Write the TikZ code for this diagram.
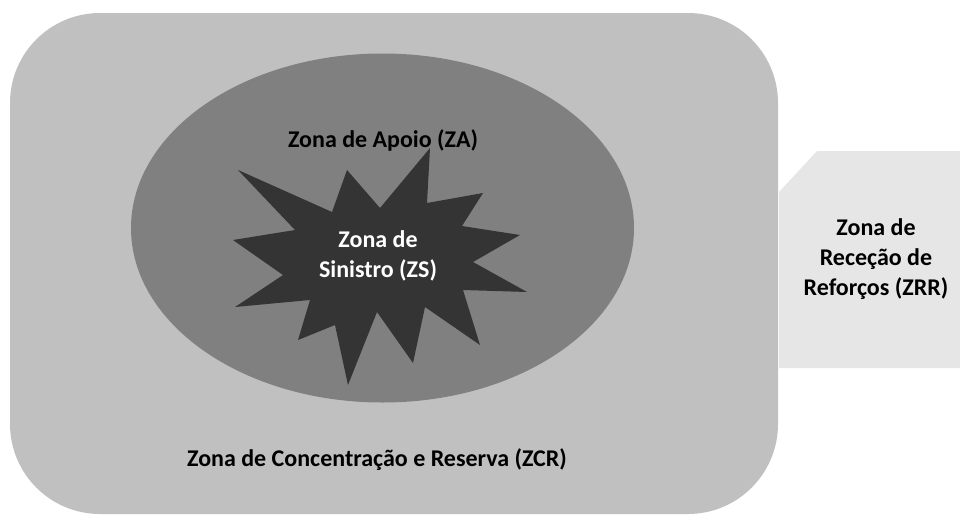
\documentclass[tikz,border=0pt]{standalone}
\usepackage{fontspec}
\setmainfont{Carlito}
\usepackage{tikz}
\usetikzlibrary{positioning}

\begin{document}
\begin{tikzpicture}[x=0.75pt, y=-0.75pt,
    zonelabel/.style={font=\fontsize{18}{22.5}\selectfont\bfseries, align=center, inner sep=0pt}]
  \useasboundingbox (0,0) rectangle (960,514);
  % zona de concentracao e reserva
  \fill[fill={rgb,255:red,192;green,192;blue,192}, rounded corners=67.5pt] (10,13) rectangle (778,514);
  % zona de rececao de reforcos
  \fill[fill={rgb,255:red,230;green,230;blue,230}] (779,192) -- (817,151) -- (960,151) -- (960,368) -- (779,368) -- cycle;
  % zona de apoio
  \fill[fill={rgb,255:red,128;green,128;blue,128}] (382.5,228) ellipse [x radius=251.5, y radius=174.5];
  % zona de sinistro
  \fill[fill={rgb,255:red,52;green,52;blue,52}] (238,170) -- (332,212) -- (347,170) -- (380,208) -- (430,148)
    -- (427,203) -- (483,193) -- (462,226) -- (520,235) -- (473,262) -- (527,292)
    -- (463,290) -- (480,345) -- (425,307) -- (413,363) -- (377,312) -- (348,385)
    -- (335,325) -- (298,340) -- (310,300) -- (235,307) -- (283,275) -- (233,240)
    -- (295,230) -- cycle;
  \node[zonelabel] (za) at (383,140) {Zona de Apoio (ZA)};
  \node[zonelabel, text=white] (zs) at (378,256) {Zona de\\Sinistro (ZS)};
  \node[zonelabel] (zcr) at (377,460) {Zona de Concentração e Reserva (ZCR)};
  \node[zonelabel] (zrr) at (876,259) {Zona de\\Receção de\\Reforços (ZRR)};
\end{tikzpicture}
\end{document}
